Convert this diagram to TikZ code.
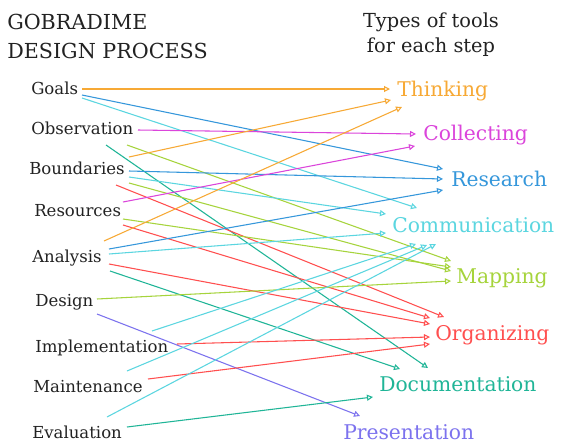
\documentclass[tikz,border=0pt]{standalone}
\usepackage{fontspec}
\setmainfont{DejaVu Serif}
\usetikzlibrary{arrows.meta}
\definecolor{cOrange}{HTML}{F7A935}
\definecolor{cMagenta}{HTML}{DB45DB}
\definecolor{cBlue}{HTML}{3597DB}
\definecolor{cCyan}{HTML}{5BD6E0}
\definecolor{cGreen}{HTML}{A6D43C}
\definecolor{cRed}{HTML}{FF4F4F}
\definecolor{cTeal}{HTML}{1FB597}
\definecolor{cPurple}{HTML}{7C72EE}
\definecolor{cText}{HTML}{222222}
\begin{document}
\begin{tikzpicture}[x=0.75pt,y=-0.75pt,
  conn/.style={line width=0.8pt,-{Triangle[open,length=4.5pt,width=4.5pt]}},
  title/.style={anchor=base west,inner sep=0pt,text=cText,font=\fontsize{15.5}{18}\selectfont},
  head/.style={anchor=base,inner sep=0pt,text=cText,font=\fontsize{14.5}{17}\selectfont},
  stepl/.style={anchor=base west,inner sep=0pt,text=cText,font=\fontsize{12.4}{15}\selectfont},
  tooll/.style={anchor=base west,inner sep=0pt,font=\fontsize{15.2}{18}\selectfont}]
\useasboundingbox[fill=white] (0,0) rectangle (562,447);
% titles
\node[title] (t1) at (7,29) {GOBRADIME};
\node[title] (t2) at (7,58) {DESIGN PROCESS};
\node[head] (h1) at (431,27) {Types of tools};
\node[head] (h2) at (431,52) {for each step};
% steps
\node[stepl] (goals) at (31,94) {Goals};
\node[stepl] (obs) at (31,134) {Observation};
\node[stepl] (bound) at (29,174) {Boundaries};
\node[stepl] (res) at (34,216) {Resources};
\node[stepl] (ana) at (32,262) {Analysis};
\node[stepl] (des) at (35,306) {Design};
\node[stepl] (imp) at (35,352) {Implementation};
\node[stepl] (mai) at (33,392) {Maintenance};
\node[stepl] (eva) at (32,438) {Evaluation};
% tools
\node[tooll,text=cOrange] (think) at (397,96) {Thinking};
\node[tooll,text=cMagenta] (coll) at (423,140) {Collecting};
\node[tooll,text=cBlue] (rese) at (451,186) {Research};
\node[tooll,text=cCyan] (comm) at (392,232) {Communication};
\node[tooll,text=cGreen] (mapp) at (456,283) {Mapping};
\node[tooll,text=cRed] (orga) at (435,340) {Organizing};
\node[tooll,text=cTeal] (docu) at (379,391) {Documentation};
\node[tooll,text=cPurple] (pres) at (343,439) {Presentation};
% start points
\coordinate (g1) at (82,89);  \coordinate (g2) at (82,95);  \coordinate (g3) at (82,98);
\coordinate (o1) at (138,130); \coordinate (o2) at (106,145); \coordinate (o3) at (127,145);
\coordinate (b1) at (129,157); \coordinate (b2) at (129,171); \coordinate (b3) at (129,177);
\coordinate (b4) at (129,183); \coordinate (b5) at (116,185);
\coordinate (s1) at (123,202); \coordinate (s2) at (123,219); \coordinate (s3) at (123,225);
\coordinate (a1) at (104,241); \coordinate (a2) at (109,249); \coordinate (a3) at (109,254);
\coordinate (a4) at (109,264); \coordinate (a5) at (110,271);
\coordinate (d1) at (97,299); \coordinate (d2) at (97,314);
\coordinate (i1) at (152,331); \coordinate (i2) at (177,344);
\coordinate (n1) at (127,371); \coordinate (n2) at (148,379);
\coordinate (e1) at (107,417); \coordinate (e2) at (127,427);
% end points
\coordinate (T1) at (390,89); \coordinate (T2) at (391,100); \coordinate (T3) at (402,107);
\coordinate (K1) at (416,134); \coordinate (K2) at (415,146);
\coordinate (R1) at (443,169); \coordinate (R2) at (443,179); \coordinate (R3) at (443,190);
\coordinate (C1) at (417,208); \coordinate (C2) at (386,214); \coordinate (C3) at (386,233);
\coordinate (C4) at (416,244); \coordinate (C5) at (427,245); \coordinate (C6) at (436,244);
\coordinate (M1) at (451,261); \coordinate (M2) at (451,267); \coordinate (M3) at (451,271); \coordinate (M4) at (451,281);
\coordinate (Z1) at (444,317); \coordinate (Z2) at (430,318); \coordinate (Z3) at (430,324);
\coordinate (Z4) at (430,337); \coordinate (Z5) at (430,344);
\coordinate (D1) at (400,369); \coordinate (D2) at (428,368); \coordinate (D3) at (373,397);
\coordinate (P1) at (360,416);
% connectors
\draw[conn,cOrange] (g1) -- (T1);
\draw[conn,cBlue] (g2) -- (R1);
\draw[conn,cCyan] (g3) -- (C1);
\draw[conn,cMagenta] (o1) -- (K1);
\draw[conn,cTeal] (o2) -- (D2);
\draw[conn,cGreen] (o3) -- (M1);
\draw[conn,cOrange] (b1) -- (T2);
\draw[conn,cBlue] (b2) -- (R2);
\draw[conn,cCyan] (b3) -- (C2);
\draw[conn,cGreen] (b4) -- (M3);
\draw[conn,cRed] (b5) -- (Z1);
\draw[conn,cMagenta] (s1) -- (K2);
\draw[conn,cGreen] (s2) -- (M2);
\draw[conn,cRed] (s3) -- (Z2);
\draw[conn,cOrange] (a1) -- (T3);
\draw[conn,cBlue] (a2) -- (R3);
\draw[conn,cCyan] (a3) -- (C3);
\draw[conn,cRed] (a4) -- (Z3);
\draw[conn,cTeal] (a5) -- (D1);
\draw[conn,cGreen] (d1) -- (M4);
\draw[conn,cPurple] (d2) -- (P1);
\draw[conn,cCyan] (i1) -- (C4);
\draw[conn,cRed] (i2) -- (Z4);
\draw[conn,cCyan] (n1) -- (C5);
\draw[conn,cRed] (n2) -- (Z5);
\draw[conn,cCyan] (e1) -- (C6);
\draw[conn,cTeal] (e2) -- (D3);
\end{tikzpicture}
\end{document}
